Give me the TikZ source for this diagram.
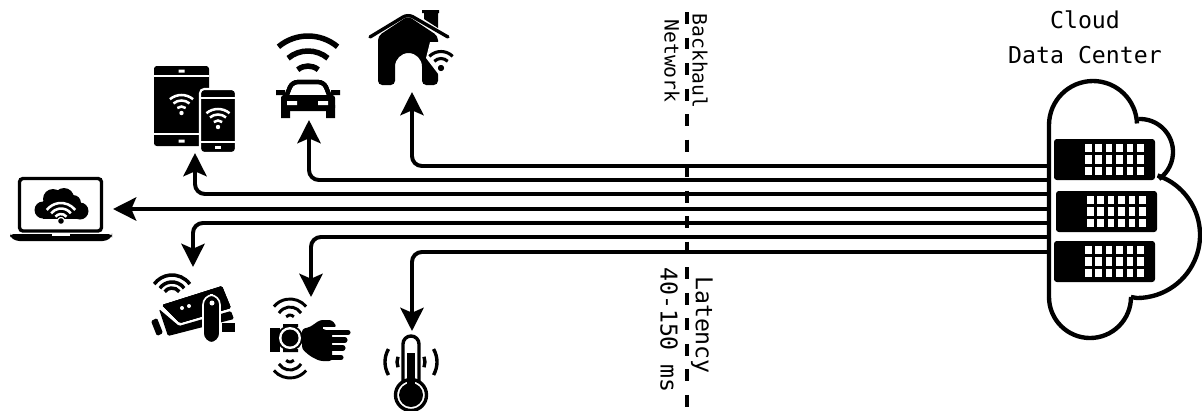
\documentclass[tikz,border=0pt]{standalone}
\usepackage{fontspec}
\setmonofont{DejaVu Sans Mono}
\usetikzlibrary{arrows.meta}
\tikzset{
  link/.style={line width=2.8pt,rounded corners=7pt,-{Stealth[length=16.5pt,width=16.5pt,inset=3.5pt]}},
  textlabel/.style={font=\ttfamily\fontsize{16.5}{20}\selectfont,inner sep=0pt,align=center},
  smalllabel/.style={font=\ttfamily\fontsize{14}{17}\selectfont,inner sep=0pt,rotate=-90},
  cloudline/.style={line width=3.1pt}
}
% one wave: x, y, direction, radius, half angle, width, colour
\newcommand{\wavearc}[7]{\draw[line width=#6,color=#7] (#1,#2)++(#3-#5:#4) arc[start angle=#3-#5,end angle=#3+#5,radius=#4];}
% rack with its grid of windows: x, y of the top left corner
\newcommand{\serverrack}[2]{
  \fill[rounded corners=2pt] (#1,#2) rectangle ++(101,-41);
  \foreach \i in {0,...,5} \foreach \j in {0,1,2}
    \fill[white] (#1+31+10.4*\i,#2-5-11.3*\j) rectangle ++(6.6,-8.4);
}
\begin{document}
\begin{tikzpicture}[x=0.025cm,y=0.025cm]
\useasboundingbox (0,0) rectangle (1202,-410);
% backhaul line
\draw[line width=2.9pt,dash pattern=on 8.5pt off 9.65pt] (687,-12) coordinate (backtop) -- (687,-408) coordinate (backbottom);
% ends of the links
\coordinate (dca) at (1048,-166);
\coordinate (dcb) at (1048,-180);
\coordinate (dcc) at (1048,-194);
\coordinate (dcd) at (1048,-209);
\coordinate (dce) at (1048,-223);
\coordinate (dcf) at (1048,-237);
\coordinate (dcg) at (1048,-252);
\coordinate (home) at (412,-92);
\coordinate (car) at (309,-120);
\coordinate (phones) at (195,-153);
\coordinate (laptop) at (113,-209);
\coordinate (camera) at (193,-267);
\coordinate (watch) at (311,-297);
\coordinate (thermo) at (412,-331);
\draw[link] (dca) -| (home);
\draw[link] (dcb) -| (car);
\draw[link] (dcc) -| (phones);
\draw[link] (dcd) -- (laptop);
\draw[link] (dce) -| (camera);
\draw[link] (dcf) -| (watch);
\draw[link] (dcg) -| (thermo);
% labels
\node[textlabel] (cloudlabel) at (1085,-20) {Cloud};
\node[textlabel] (dclabel) at (1085,-55) {Data Center};
\node[smalllabel] (backhaul) at (700,-61) {Backhaul};
\node[smalllabel] (network) at (672,-61) {Network};
\node[textlabel,rotate=-90] (latency) at (702,-325) {Latency};
\node[textlabel,rotate=-90] (delay) at (669,-330) {40-150 ms};
% cloud
\draw[cloudline] (1049,-297) -- (1049,-125) arc[start angle=180,end angle=2,radius=44];
\draw[cloudline] (1140,-152)++(93:33) arc[start angle=93,end angle=-55,radius=33];
\draw[cloudline] (1137,-235)++(71:63) arc[start angle=71,end angle=-90,radius=63] -- (1131,-297);
\draw[cloudline] (1131,-297) arc[start angle=0,end angle=-180,radius=41];
\serverrack{1054}{-139}
\serverrack{1056}{-191}
\serverrack{1054}{-241}
% tablet and phone
\fill[rounded corners=2pt] (154,-66) rectangle (209,-146);
\draw[white,line width=1.4pt] (154,-76) -- (209,-76) (154,-134) -- (209,-134);
\fill[white] (178.5,-69.5) rectangle (184.5,-72.5) (178.5,-139.5) rectangle (184.5,-142.5);
\draw[white,fill=black,line width=1.5pt,rounded corners=3pt] (200,-89) rectangle (236,-153);
\draw[white,line width=1.2pt] (201,-98) -- (235,-98) (201,-142) -- (235,-142);
\fill[white] (215,-145.5) rectangle (221,-148.5);
\foreach \r in {6.5,12.5,18} {
  \wavearc{181.5}{-113}{90}{\r}{40}{1.8pt}{white}
  \wavearc{218}{-127}{90}{\r}{40}{1.8pt}{white}
}
\fill[white] (181.5,-113) circle (2.2) (218,-127) circle (2.2);
% car
\foreach \r in {46,31,16} \wavearc{308}{-82}{90}{\r}{40}{3.9pt}{black}
\draw[line width=3pt,rounded corners=4pt] (286,-97) -- (292,-82) -- (324,-82) -- (330,-97);
\fill[rounded corners=2pt] (281,-95) rectangle (335,-111);
\fill (281,-105) rectangle (290,-118) (326,-105) rectangle (335,-118);
\fill (276,-90) -- (285,-90) -- (285,-95) -- (276,-95) -- cycle (331,-90) -- (340,-90) -- (340,-95) -- (331,-95) -- cycle;
\fill[white] (287,-101) rectangle (297,-105) (318,-101) rectangle (328,-105);
% house
\fill (422,-10) rectangle (439,-13) (424,-13) -- (438,-13) -- (438,-28) -- (424,-19) -- cycle;
\fill[rounded corners=3pt] (395,-85) -- (378,-85) -- (378,-36) -- (408,-16) -- (438,-36) -- (438,-85) -- (422,-85)
  {[sharp corners] -- (422,-66.5) arc[start angle=0,end angle=180,radius=13.5]} -- cycle;
\draw[line width=2.4pt,rounded corners=4pt,line cap=round] (370,-37) -- (408,-14) -- (448,-37);
\fill[white] (426,-58) -- (439,-75) -- (460,-75) -- (460,-42) -- (430,-42) -- cycle;
\foreach \r in {9.5,16.5} \wavearc{441}{-68}{90}{\r}{45}{2.2pt}{black}
\fill (441,-68) circle (3);
% laptop
\draw[line width=2.4pt,rounded corners=2.5pt] (19.5,-178.5) rectangle (101.5,-231);
\fill[rounded corners=2.5pt] (10,-234) -- (112,-234) -- (112,-237) -- (106,-241) -- (16,-241) -- (10,-237) -- cycle;
\fill[white] (52,-234) rectangle (70,-236);
\fill (53,-199) circle (10) (64,-198) circle (10) (73,-203) circle (8) (43,-210) circle (8.5) (80,-211) circle (8.5);
\fill (43,-201) rectangle (80,-219);
\foreach \r in {7,12.5,18} \wavearc{61}{-221}{90}{\r}{52}{1.8pt}{white}
\fill[white] (61,-221) circle (4);
\fill (61,-221) circle (2.8);
% camera
\foreach \r in {9,15,22} \wavearc{172}{-297}{90}{\r}{54}{2.5pt}{black}
\fill[rounded corners=1pt] (162,-305) -- (222,-286) -- (231,-308) -- (180,-323) -- cycle;
\fill[rounded corners=1pt] (159,-309) -- (179,-326) -- (231,-311) -- (234,-319) -- (168,-336) -- cycle;
\fill[rounded corners=1pt] (151,-321) -- (157,-318) -- (163,-333) -- (157,-336) -- cycle;
\fill (222,-323) rectangle (235,-332);
\draw[white,fill=black,line width=1.2pt,rounded corners=7pt] (203,-343) rectangle (220,-295);
\fill[white] (182,-308) circle (2) (189,-306) circle (2) (212,-303) circle (2.5);
% watch
\fill (270,-328) rectangle (280,-352);
\fill (283,-324) rectangle (298,-327) (283,-349) rectangle (298,-352);
\fill[rounded corners=2pt] (302,-329) -- (310,-327) -- (320,-320) -- (332,-320) -- (337,-327) -- (323,-327) -- (323,-330) -- (332,-330) -- (332,-361) -- (320,-361) -- (310,-356) -- (302,-349) -- cycle;
\draw[line width=3.6pt,line cap=round] (330,-332.5) -- (348,-332.5) (330,-340) -- (345,-340) (330,-348) -- (343,-348) (330,-357.5) -- (341,-357.5);
\fill[white] (323,-327) -- (337,-327) -- (337,-328.5) -- (323,-328.5) -- cycle;
\draw[line width=2pt] (290,-338) circle (11.5);
\fill[white] (290,-338) circle (11);
\fill (290,-338) circle (8.5);
\foreach \r/\a in {5/50,13/58,21/50} {
  \wavearc{290}{-320}{90}{\r}{\a}{2.1pt}{black}
  \wavearc{290}{-357}{-90}{\r}{\a}{2.1pt}{black}
}
% thermometer
\draw[line width=2.4pt] (403,-385) -- (403,-344) arc[start angle=180,end angle=0,radius=8] -- (419,-385);
\draw[line width=2.4pt,fill=white] (411,-395) circle (15.5);
\fill (411,-395) circle (12);
\fill (407,-353) rectangle (415,-390);
\wavearc{411}{-362}{180}{26}{30}{2.4pt}{black}
\wavearc{411}{-362}{0}{26}{30}{2.4pt}{black}
\wavearc{411}{-362}{180}{14}{22}{2.4pt}{black}
\wavearc{411}{-362}{0}{14}{22}{2.4pt}{black}
\end{tikzpicture}
\end{document}
